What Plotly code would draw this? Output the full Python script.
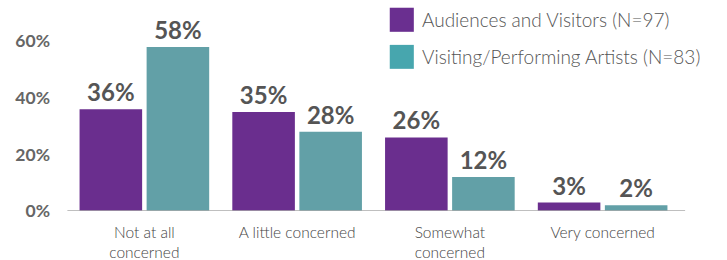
import plotly.graph_objects as go

categories = ["Not at all<br>concerned", "A little concerned", "Somewhat<br>concerned", "Very concerned"]
series_names = ["Audiences and Visitors (N=97)", "Visiting/Performing Artists (N=83)"]
audiences = [36, 35, 26, 3]
artists = [58, 28, 12, 2]
y_ticks = [0, 20, 40, 60]
y_tick_labels = ["0%", "20%", "40%", "60%"]

bar_colors = ["#6A2E8E", "#62A0A7"]
legend_colors = ["#6A2F90", "#47A6AE"]
FONT = "Lato"

fig = go.Figure()
for name, vals, col in zip(series_names, [audiences, artists], bar_colors):
    fig.add_trace(go.Bar(
        x=list(range(len(categories))), y=vals, name=name,
        marker=dict(color=col, line=dict(width=0)),
        text=[f"{v}%" for v in vals], textposition="outside",
        textfont=dict(family=FONT, size=24, color="#555555", weight="bold"),
        cliponaxis=False, showlegend=False, hoverinfo="skip",
    ))

fig.update_layout(
    width=727, height=260,
    margin=dict(l=67.5, r=48.25, t=13.25, b=49, autoexpand=False),
    paper_bgcolor="white", plot_bgcolor="white",
    barmode="group", bargap=0.122, bargroupgap=0.067,
    xaxis=dict(
        tickmode="array", tickvals=list(range(len(categories))), ticktext=categories,
        range=[-0.5, len(categories) - 0.5], showgrid=False, zeroline=False, showline=False,
        ticks="", tickfont=dict(family=FONT, size=15.5, color="#444444", weight=300),
        ticklabelstandoff=10, automargin=False,
    ),
    yaxis=dict(
        range=[0, 70], tickvals=y_ticks, ticktext=y_tick_labels,
        showgrid=False, zeroline=False, showline=False, ticks="",
        tickfont=dict(family=FONT, size=17.5, color="#666666", weight="bold"),
        ticklabelstandoff=17, automargin=False,
    ),
)

# baseline
fig.add_shape(type="line", xref="paper", yref="y", x0=-0.001, x1=1.01, y0=0, y1=0,
              line=dict(color="#AAAAAA", width=1.5))

# manual legend
sw_x0, sw_x1 = 0.5266, 0.566
rows = [(1.0266, 0.905, 0.966), (0.839, 0.718, 0.779)]
for name, col, (y0, y1, yc) in zip(series_names, legend_colors, rows):
    fig.add_shape(type="rect", xref="paper", yref="paper", x0=sw_x0, x1=sw_x1, y0=y1, y1=y0,
                  fillcolor=col, line=dict(width=0))
    fig.add_annotation(xref="paper", yref="paper", x=0.5768, y=yc, text=name, showarrow=False,
                       xanchor="left", yanchor="middle",
                       font=dict(family=FONT, size=19, color="#555555", weight=300))

fig.write_html("out.html", config={"displayModeBar": False},
               post_script="document.body.style.margin='0';")
